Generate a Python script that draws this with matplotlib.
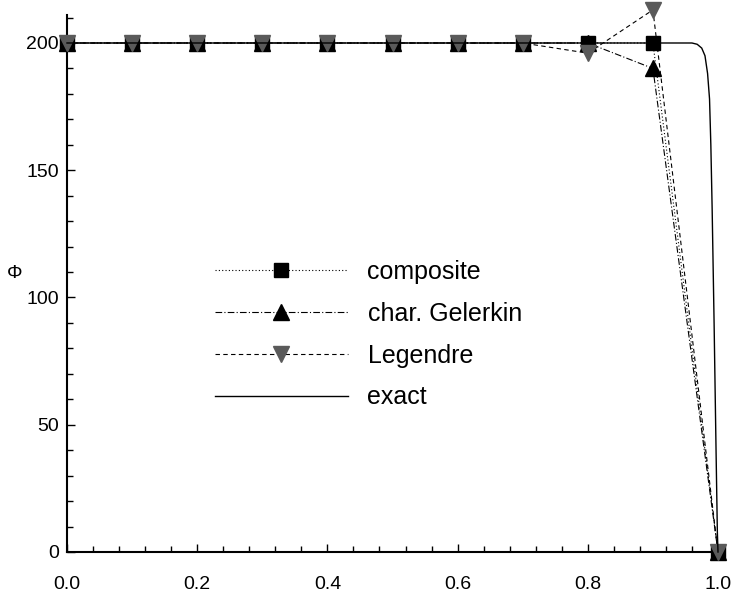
import matplotlib
matplotlib.use("Agg")
import matplotlib.pyplot as plt
from matplotlib.ticker import MultipleLocator

x_nodes = [0.0, 0.1, 0.2, 0.3, 0.4, 0.5, 0.6, 0.7, 0.8, 0.9, 1.0]
composite = [200, 200, 200, 200, 200, 200, 200, 200, 200, 200, 0]
galerkin = [200, 200, 200, 200, 200, 200, 200, 200, 200, 190, 0]
legendre = [200, 200, 200, 200, 200, 200, 200, 200, 196, 213, 0]
x_exact = [0.0, 0.96, 0.968, 0.975, 0.98, 0.984, 0.987, 0.989, 0.991, 0.994, 0.997, 0.999, 1.0]
exact = [200, 200, 199.5, 198, 195, 188, 178, 160, 135, 90, 40, 8, 0]

plt.rcParams['font.family'] = ['Liberation Sans', 'DejaVu Sans']

fig = plt.figure(figsize=(7.36, 5.99), dpi=100)
ax = fig.add_axes([67/736, 47/599, 651/736, 537/599])

ax.plot(x_nodes, composite, linestyle=(0, (1, 2)), color='black', lw=0.8,
        marker='s', markersize=10, markerfacecolor='black', markeredgecolor='black',
        label='composite', clip_on=False, zorder=3)
ax.plot(x_nodes, galerkin, linestyle=(0, (6, 2, 1, 2)), color='black', lw=0.8,
        marker='^', markersize=11, markerfacecolor='black', markeredgecolor='black',
        label='char. Gelerkin', clip_on=False, zorder=4)
ax.plot(x_nodes, legendre, linestyle=(0, (4, 3)), color='black', lw=0.8,
        marker='v', markersize=11, markerfacecolor='#5a5a5a', markeredgecolor='#5a5a5a',
        label='Legendre', clip_on=False, zorder=5)
ax.plot(x_exact, exact, linestyle='-', color='black', lw=1.0, label='exact', zorder=6,
        clip_on=False)

ax.set_xlim(0, 1.0)
ax.set_ylim(0, 211)
ax.spines['top'].set_visible(False)
ax.spines['right'].set_visible(False)
ax.spines['left'].set_linewidth(1.5)
ax.spines['bottom'].set_linewidth(1.5)

ax.xaxis.set_minor_locator(MultipleLocator(0.04))
ax.yaxis.set_minor_locator(MultipleLocator(10))
ax.set_xticks([0.0, 0.2, 0.4, 0.6, 0.8, 1.0])
ax.set_xticklabels(['0.0', '0.2', '0.4', '0.6', '0.8', '1.0'])
ax.set_yticks([0, 50, 100, 150, 200])
ax.tick_params(which='major', direction='in', length=6, width=1, labelsize=14)
ax.tick_params(which='minor', direction='in', length=4, width=1)
ax.tick_params(axis='x', which='major', pad=17)
ax.tick_params(axis='y', which='major', pad=6)

fig.text(15/736, 1 - 273/599, 'Φ', fontsize=14, ha='center', va='center')

leg = ax.legend(loc='upper left', bbox_to_anchor=((205 - 67)/651, 1 - (251-16)/537),
                frameon=False, fontsize=18, handlelength=5.3, handletextpad=0.8,
                labelspacing=0.71, borderaxespad=0)

fig.savefig('out.png', dpi=100)
